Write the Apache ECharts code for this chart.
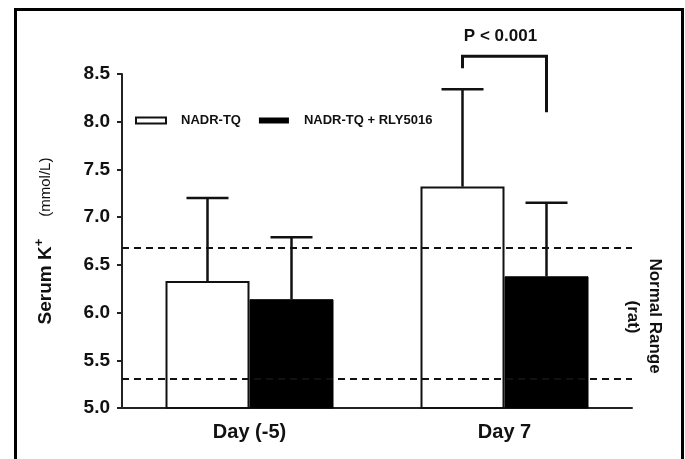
<!DOCTYPE html>
<html>
<head>
<meta charset="utf-8">
<script src="https://cdn.jsdelivr.net/npm/echarts@6/dist/echarts.min.js"></script>
<style>
html,body{margin:0;padding:0;background:#fff;}
#c{width:685px;height:459px;}
</style>
</head>
<body>
<div id="c"></div>
<script>
// ---- data ----
var categories = ['Day (-5)', 'Day 7'];
var seriesNames = ['NADR-TQ', 'NADR-TQ + RLY5016'];
var meanNADR = [6.33, 7.32];
var upperNADR = [7.20, 8.34];
var meanRLY = [6.14, 6.38];
var upperRLY = [6.79, 7.15];
var normalRange = [5.31, 6.68];
var yTicks = [5.0, 5.5, 6.0, 6.5, 7.0, 7.5, 8.0, 8.5];
// significance bracket: [category, top, left leg end, right leg end, label y]
var sigBracket = [[1, 8.685, 8.56, 8.10, 8.89]];
var sigLabel = 'P < 0.001';

var FONT = 'Liberation Sans, Arial, sans-serif';
var BAR_W = 84;

var chart = echarts.init(document.getElementById('c'), null, {renderer: 'canvas'});

function errRender(offsetSign) {
  return function (params, api) {
    var cat = api.value(0);
    var top = api.coord([cat, api.value(2)]);
    var base = api.coord([cat, api.value(1)]);
    var x = top[0] + offsetSign * BAR_W / 2;
    var capHalf = 21;
    return {
      type: 'group',
      children: [
        {type: 'line', shape: {x1: x, y1: base[1], x2: x, y2: top[1]},
         style: {stroke: '#111', lineWidth: 2.5}},
        {type: 'line', shape: {x1: x - capHalf, y1: top[1], x2: x + capHalf, y2: top[1]},
         style: {stroke: '#111', lineWidth: 2.5}}
      ]
    };
  };
}

function errData(means, uppers) {
  return means.map(function (m, i) { return [i, m, uppers[i]]; });
}

var option = {
  backgroundColor: '#ffffff',
  animation: false,
  textStyle: {fontFamily: FONT},
  grid: {left: 122, right: 53, top: 74, bottom: 51, containLabel: false},
  legend: {
    left: 130, top: 109,
    itemWidth: 30, itemHeight: 6, itemGap: 18,
    textStyle: {fontFamily: FONT, fontSize: 13, fontWeight: 'bold', color: '#111', padding: [0, 0, 0, 10]},
    data: [
      {name: seriesNames[0], icon: 'rect', itemStyle: {color: '#fff', borderColor: '#111', borderWidth: 2}},
      {name: seriesNames[1], icon: 'rect', itemStyle: {color: '#000', borderWidth: 0}}
    ]
  },
  xAxis: {
    type: 'category',
    data: categories,
    axisLine: {lineStyle: {color: '#222', width: 2}},
    axisTick: {show: false},
    axisLabel: {fontFamily: FONT, fontSize: 20, fontWeight: 'bold', color: '#111', margin: 14}
  },
  yAxis: {
    type: 'value',
    min: yTicks[0], max: yTicks[yTicks.length - 1], interval: 0.5,
    splitLine: {show: false},
    axisLine: {show: true, lineStyle: {color: '#222', width: 2}},
    axisTick: {show: true, length: 5, lineStyle: {color: '#222', width: 2}},
    axisLabel: {fontFamily: FONT, fontSize: 19, fontWeight: 'bold', color: '#111', margin: 12,
      formatter: function (v) { return v.toFixed(1); }},
    name: '{a|Serum K}{s|+}{b|(mmol/L)}',
    nameLocation: 'middle',
    nameRotate: 90,
    nameGap: 63,
    nameTextStyle: {
      rich: {
        a: {fontFamily: FONT, fontSize: 19, fontWeight: 'bold', color: '#111'},
        s: {fontFamily: FONT, fontSize: 13, fontWeight: 'bold', color: '#111', padding: [0, 0, 13, 0]},
        b: {fontFamily: FONT, fontSize: 15, color: '#111', padding: [0, 0, 0, 22]}
      }
    }
  },
  series: [
    {
      name: seriesNames[0], type: 'bar', data: meanNADR,
      barWidth: BAR_W, barGap: '0%',
      itemStyle: {color: '#fff', borderColor: '#111', borderWidth: 2},
      z: 2,
      markLine: {
        silent: true, symbol: 'none',
        label: {show: false},
        lineStyle: {color: '#111', type: [7, 5], width: 2},
        data: normalRange.map(function (v) { return {yAxis: v}; })
      }
    },
    {
      name: seriesNames[1], type: 'bar', data: meanRLY,
      barWidth: BAR_W, barGap: '0%',
      itemStyle: {color: '#000', borderColor: '#000', borderWidth: 1},
      z: 2
    },
    {
      type: 'custom', name: 'errNADR', data: errData(meanNADR, upperNADR),
      renderItem: errRender(-1), z: 1, silent: true
    },
    {
      type: 'custom', name: 'errRLY', data: errData(meanRLY, upperRLY),
      renderItem: errRender(1), z: 1, silent: true
    },
    {
      type: 'custom', name: 'sig', data: sigBracket, silent: true, z: 3,
      renderItem: function (params, api) {
        var cat = api.value(0);
        var t = api.coord([cat, api.value(1)]);
        var l = api.coord([cat, api.value(2)]);
        var r = api.coord([cat, api.value(3)]);
        var lab = api.coord([cat, api.value(4)]);
        var xL = t[0] - BAR_W / 2, xR = t[0] + BAR_W / 2;
        return {
          type: 'group',
          children: [
            {type: 'polyline', shape: {points: [[xL, l[1]], [xL, t[1]], [xR, t[1]], [xR, r[1]]]},
             style: {stroke: '#111', lineWidth: 3, fill: null}},
            {type: 'text', style: {x: (xL + xR) / 2 - 4, y: lab[1], text: sigLabel,
              font: 'bold 17px ' + FONT, fill: '#111', align: 'center', verticalAlign: 'middle',
              textAlign: 'center', textVerticalAlign: 'middle'}}
          ]
        };
      }
    }
  ],
  graphic: [
    {type: 'rect', left: 13, top: 7, shape: {width: 667, height: 470},
     style: {fill: null, stroke: '#000', lineWidth: 3}, silent: true},
    {type: 'text', x: 655, y: 316, rotation: -Math.PI / 2,
     style: {text: 'Normal Range', font: 'bold 17px ' + FONT, fill: '#111', align: 'center', verticalAlign: 'middle'}},
    {type: 'text', x: 633, y: 317, rotation: -Math.PI / 2,
     style: {text: '(rat)', font: 'bold 17px ' + FONT, fill: '#111', align: 'center', verticalAlign: 'middle'}}
  ]
};

chart.setOption(option);
</script>
</body>
</html>
